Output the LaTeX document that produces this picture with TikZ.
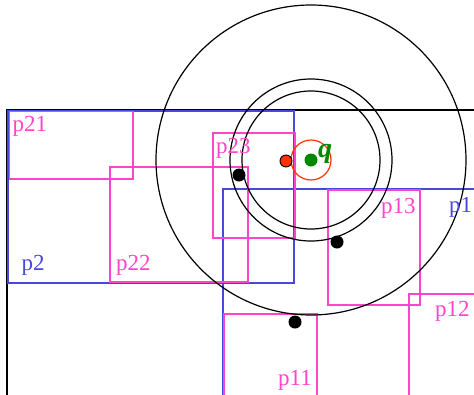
\documentclass[tikz,border=0pt]{standalone}
\usepackage{fontspec}
\setmainfont{Liberation Serif}
\definecolor{pinkc}{HTML}{FF44CC}
\definecolor{bluec}{HTML}{4848DD}
\definecolor{redc}{HTML}{FF3300}
\definecolor{greenc}{HTML}{008800}
\begin{document}
\begin{tikzpicture}[x=1pt,y=-1pt,
  prect/.style={draw=pinkc,line width=1.3pt},
  brect/.style={draw=bluec,line width=1.3pt},
  circ/.style={draw=black,line width=1.2pt},
  plab/.style={text=pinkc,anchor=base west,inner sep=0pt,font=\fontsize{23}{23}\selectfont},
  blab/.style={text=bluec,anchor=base west,inner sep=0pt,font=\fontsize{23}{23}\selectfont},
  bdot/.style={circle,fill=black,minimum size=13pt,inner sep=0pt}]
\useasboundingbox (0,0) rectangle (474,394);
\clip (0,0) rectangle (474,394);
% outer black frame
\draw[line width=1.3pt] (7,420) -- (7,110) -- (500,110);
% blue rectangles
\draw[brect] (8,111) rectangle (294,283);
\draw[brect] (223,189) rectangle (500,420);
% pink rectangles
\draw[prect] (9.5,111.5) rectangle (133,179);
\draw[prect] (110,167) rectangle (248,282);
\draw[prect] (213,133) rectangle (295,238);
\draw[prect] (328,190) rectangle (420,305);
\draw[prect] (409,294) rectangle (500,420);
\draw[prect] (224,314) rectangle (317,420);
% circles
\coordinate (q) at (311,160);
\draw[circ] (q) circle (155);
\draw[circ] (q) circle (81);
\draw[circ] (q) circle (69);
\draw[draw=redc,line width=1.2pt] (q) circle (20);
% dots
\node[circle,fill=greenc,minimum size=13pt,inner sep=0pt] (gq) at (q) {};
\node[circle,fill=redc,draw=black,line width=0.9pt,minimum size=12pt,inner sep=0pt] (rd) at (286,161) {};
\node[bdot] (d1) at (239,175) {};
\node[bdot] (d2) at (337,242) {};
\node[bdot] (d3) at (295,322) {};
% labels
\node[plab] (l21) at (12.5,131) {p21};
\node[plab] (l22) at (116,270) {p22};
\node[plab] (l23) at (216,153) {p23};
\node[blab] (l2) at (21.5,270) {p2};
\node[plab] (l13) at (381,213) {p13};
\node[blab] (l1) at (449,212) {p1};
\node[plab] (l12) at (435,316) {p12};
\node[plab] (l11) at (278,385) {p11};
\node[text=greenc,anchor=base west,inner sep=0pt,font=\fontsize{28}{28}\selectfont\bfseries\itshape] (lq) at (318,157) {q};
\end{tikzpicture}
\end{document}
